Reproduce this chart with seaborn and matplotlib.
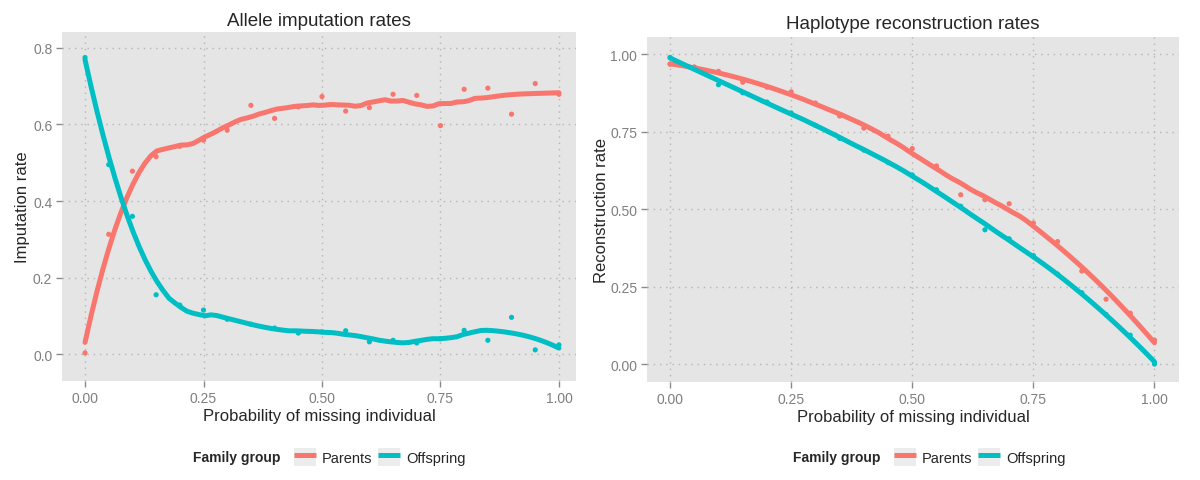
import numpy as np
import pandas as pd
import seaborn as sns
import matplotlib.pyplot as plt
from matplotlib.lines import Line2D
from matplotlib.patches import Patch
from matplotlib.legend_handler import HandlerTuple

# probability of missing individual (same grid for both panels)
prob = [0.00, 0.05, 0.10, 0.15, 0.20, 0.25, 0.30, 0.35, 0.40, 0.45, 0.50,
        0.55, 0.60, 0.65, 0.70, 0.75, 0.80, 0.85, 0.90, 0.95, 1.00]

# allele imputation rates
imp_parents = [0.003, 0.313, 0.478, 0.516, 0.543, 0.559, 0.585, 0.650, 0.616, 0.646, 0.673,
               0.635, 0.644, 0.679, 0.676, 0.597, 0.692, 0.695, 0.627, 0.707, 0.679]
imp_offspring = [0.775, 0.495, 0.360, 0.155, 0.128, 0.115, 0.091, 0.078, 0.068, 0.055, 0.058,
                 0.061, 0.032, 0.036, 0.029, 0.040, 0.062, 0.036, 0.096, 0.011, 0.024]

# haplotype reconstruction rates
rec_parents = [0.967, 0.958, 0.944, 0.909, 0.893, 0.878, 0.842, 0.800, 0.761, 0.735, 0.695,
               0.639, 0.546, 0.530, 0.517, 0.455, 0.395, 0.300, 0.209, 0.164, 0.077]
rec_offspring = [0.989, 0.957, 0.901, 0.875, 0.845, 0.810, 0.770, 0.728, 0.690, 0.650, 0.610,
                 0.562, 0.509, 0.433, 0.404, 0.350, 0.290, 0.230, 0.160, 0.093, 0.000]

groups = ["Parents", "Offspring"]
palette = {"Parents": "#F8766D", "Offspring": "#00BFC4"}


def loess(x, y, span, grid):
    # local quadratic fit with tricube weights (like R's loess)
    x = np.asarray(x)
    y = np.asarray(y)
    q = int(np.floor(len(x) * span))
    out = []
    for x0 in grid:
        d = np.abs(x - x0)
        h = np.sort(d)[q - 1] * 1.0001
        w = np.clip(1 - (d / h) ** 3, 0, None) ** 3
        coef = np.polyfit(x - x0, y, 2, w=np.sqrt(w))
        out.append(coef[-1])
    return np.array(out)


def make_frames(parents, offspring, span):
    pts = pd.DataFrame({
        "prob": prob * 2,
        "rate": parents + offspring,
        "group": ["Parents"] * len(prob) + ["Offspring"] * len(prob),
    })
    grid = np.linspace(0, 1, 80)
    fit = pd.DataFrame({
        "prob": np.concatenate([grid, grid]),
        "rate": np.concatenate([loess(prob, parents, span, grid),
                                loess(prob, offspring, span, grid)]),
        "group": ["Parents"] * len(grid) + ["Offspring"] * len(grid),
    })
    return pts, fit


sns.set_style("white")
plt.rcParams["font.family"] = ["Liberation Sans", "DejaVu Sans"]

fig = plt.figure(figsize=(12, 4.81), dpi=100)
ax1 = fig.add_axes([0.0517, 0.2058, 0.4283, 0.725])
ax2 = fig.add_axes([0.5392, 0.2031, 0.4433, 0.7173])

panels = [
    (ax1, imp_parents, imp_offspring, 0.4, "Allele imputation rates", "Imputation rate",
     [0, 0.2, 0.4, 0.6, 0.8], ["0.0", "0.2", "0.4", "0.6", "0.8"], (-0.0485, 1.036), (-0.0704, 0.841), 5, 2),
    (ax2, rec_parents, rec_offspring, 0.6, "Haplotype reconstruction rates", "Reconstruction rate",
     [0, 0.25, 0.5, 0.75, 1.0], ["0.00", "0.25", "0.50", "0.75", "1.00"], (-0.0475, 1.0506), (-0.059, 1.054), 7, 1),
]

for ax, par, off, span, title, ylab, yt, ytl, xl, yl, tpad, ypad in panels:
    pts, fit = make_frames(par, off, span)
    ax.set_facecolor("#E5E5E5")
    sns.scatterplot(data=pts, x="prob", y="rate", hue="group", palette=palette,
                    hue_order=groups, s=14, linewidth=0, legend=False, ax=ax, zorder=3)
    sns.lineplot(data=fit, x="prob", y="rate", hue="group", palette=palette,
                 hue_order=groups, lw=3.6, legend=False, ax=ax, zorder=4)
    ax.set_xlim(*xl)
    ax.set_ylim(*yl)
    ax.set_xticks([0, 0.25, 0.5, 0.75, 1.0])
    ax.set_xticklabels(["0.00", "0.25", "0.50", "0.75", "1.00"])
    ax.set_yticks(yt)
    ax.set_yticklabels(ytl)
    ax.grid(True, color="#B5B5B5", linestyle=(0, (1, 3.5)), lw=1.0)
    ax.set_axisbelow(True)
    for sp in ax.spines.values():
        sp.set_visible(False)
    ax.tick_params(axis="both", length=4, width=1, color="#8a8a8a",
                   labelcolor="#7f7f7f", labelsize=10, pad=3, left=True, bottom=True)
    ax.set_title(title, fontsize=13.5, pad=tpad)
    ax.set_xlabel("Probability of missing individual", fontsize=12, labelpad=2)
    ax.set_ylabel(ylab, fontsize=12, labelpad=ypad)

# legends below each panel
handles = [
    (Patch(facecolor="#ECECEC", edgecolor="none"),
     Line2D([], [], color=palette[g], lw=3.6, solid_capstyle="butt"))
    for g in groups
]
for cx in [0.315, 0.815]:
    fig.text(cx - 0.081, 0.047, "Family group", fontsize=10, fontweight="bold",
             ha="right", va="center")
    fig.legend(handles, groups, handler_map={tuple: HandlerTuple(ndivide=1, pad=0)},
               loc="center left", bbox_to_anchor=(cx - 0.076, 0.047), ncol=2,
               frameon=False, fontsize=10.5, handlelength=1.5, handleheight=1.5,
               handletextpad=0.4, columnspacing=0.4, borderpad=0)

fig.savefig("out.png", dpi=100)
